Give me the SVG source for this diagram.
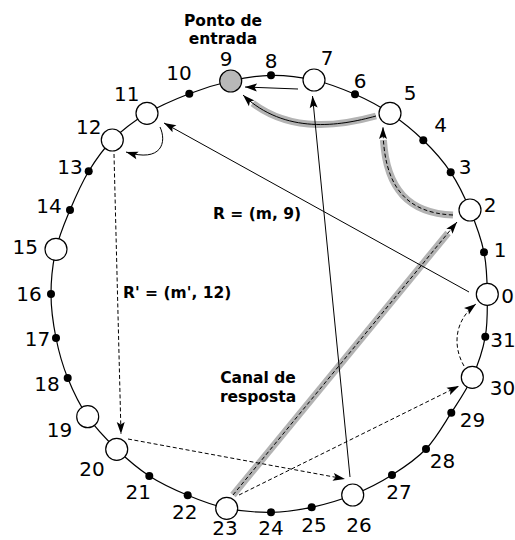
<svg xmlns="http://www.w3.org/2000/svg" width="515" height="540" viewBox="0 0 515 540">
<style>
.ring{fill:none;stroke:#000;stroke-width:1.2}
.n{fill:#fff;stroke:#000;stroke-width:1.2}
.n9{fill:#b8b8b8;stroke:#000;stroke-width:1.2}
.d{fill:#000}
.lbl{font-family:"DejaVu Sans",sans-serif;font-size:20px;fill:#000;text-anchor:middle}
.bold{font-family:"DejaVu Sans",sans-serif;font-size:15.5px;font-weight:bold;fill:#000}
.c{fill:none;stroke:#000;stroke-width:1}
.dash{stroke-dasharray:4 2.5}
.halo{fill:none;stroke:#b3b3b3;stroke-width:7}
</style>
<defs>
<marker id="ah" markerUnits="userSpaceOnUse" markerWidth="13" markerHeight="9" refX="12" refY="4" orient="auto" overflow="visible">
<path d="M0,0 L12,4 L0,8 L2.5,4 Z" fill="#000" stroke="none"/>
</marker>
</defs>
<rect width="515" height="540" fill="#fff"/>
<path class="ring" d="M487.3 294.3 C487.1 280.2 486.9 266.4 484 252.3 C481.1 238.3 475.6 223.3 470 210 C464.5 196.7 458.5 183.9 450.7 172.3 C442.9 160.7 433.4 150.1 423.3 140.3 C413.2 130.5 401.4 121 390 113.3 C378.6 105.6 367.7 99.9 355 94.3 C342.3 88.8 328 83.2 314 80 C300 76.8 284.9 75.1 271 75.3 C257.1 75.5 244.3 77.9 230.7 81 C217.1 84.1 203.3 88.3 189.3 93.7 C175.4 99.1 159.8 105.6 147 113.3 C134.2 121 122 130.3 112.3 140 C102.6 149.7 95.8 159.6 88.7 171.3 C81.7 183 75.5 197 70 210 C64.6 223 59.2 235.3 56 249.3 C52.8 263.3 51 279.2 51 294 C51 308.8 53.2 324 56 338 C58.8 352 62.4 364.9 67.7 378 C73 391.1 79.5 404.8 87.7 416.7 C95.9 428.6 106.4 439.4 116.7 449.3 C127 459.2 137.5 468.3 149.3 476 C161.1 483.7 174.8 489.9 187.7 495.3 C200.6 500.7 212.8 505.5 226.7 508.3 C240.6 511.1 256.8 512.5 271 512.3 C285.2 512.1 298.1 510.2 311.7 507.3 C325.3 504.4 339.3 500.4 352.7 495 C366.1 489.6 379.8 482.7 392 475 C404.2 467.3 416.1 459.4 426 449 C435.9 438.6 443.6 424.6 451.3 412.7 C459 400.8 466.6 390 472.3 377.3 C478 364.6 482.8 350.5 485.3 336.7 C487.8 322.9 487.3 308.5 487.3 294.3 Z"/>
<g id="node0"><circle class="n" cx="487.3" cy="294.3" r="11"/><text class="lbl" x="507.5" y="303">0</text></g>
<g id="node1"><circle class="d" cx="484" cy="252.3" r="4"/><text class="lbl" x="500" y="257">1</text></g>
<g id="node2"><circle class="n" cx="470" cy="210" r="11"/><text class="lbl" x="490" y="212">2</text></g>
<g id="node3"><circle class="d" cx="450.7" cy="172.3" r="4"/><text class="lbl" x="465" y="174">3</text></g>
<g id="node4"><circle class="d" cx="423.3" cy="140.3" r="4"/><text class="lbl" x="440.7" y="132">4</text></g>
<g id="node5"><circle class="n" cx="390" cy="113.3" r="11"/><text class="lbl" x="410" y="100">5</text></g>
<g id="node6"><circle class="d" cx="355" cy="94.3" r="4"/><text class="lbl" x="360" y="88">6</text></g>
<g id="node7"><circle class="n" cx="314" cy="80" r="11"/><text class="lbl" x="327" y="65">7</text></g>
<g id="node8"><circle class="d" cx="271" cy="75.3" r="4"/><text class="lbl" x="271" y="68">8</text></g>
<g id="node9"><circle class="n9" cx="230.7" cy="81" r="11"/><text class="lbl" x="226" y="65.5">9</text>
<text class="bold" x="223" y="26" text-anchor="middle">Ponto de</text><text class="bold" x="223" y="44" text-anchor="middle">entrada</text></g>
<g id="node10"><circle class="d" cx="189.3" cy="93.7" r="4"/><text class="lbl" x="179" y="80">10</text></g>
<g id="node11"><circle class="n" cx="147" cy="113.3" r="11"/><text class="lbl" x="126.7" y="100.5">11</text></g>
<g id="node12"><circle class="n" cx="112.3" cy="140" r="11"/><text class="lbl" x="88.7" y="134">12</text></g>
<g id="node13"><circle class="d" cx="88.7" cy="171.3" r="4"/><text class="lbl" x="70" y="174.3">13</text></g>
<g id="node14"><circle class="d" cx="70" cy="210" r="4"/><text class="lbl" x="49" y="212.7">14</text></g>
<g id="node15"><circle class="n" cx="56" cy="249.3" r="11"/><text class="lbl" x="25.3" y="254.3">15</text></g>
<g id="node16"><circle class="d" cx="51" cy="294" r="4"/><text class="lbl" x="29" y="301">16</text></g>
<g id="node17"><circle class="d" cx="56" cy="338" r="4"/><text class="lbl" x="37.5" y="346">17</text></g>
<g id="node18"><circle class="d" cx="67.7" cy="378" r="4"/><text class="lbl" x="47" y="390.5">18</text></g>
<g id="node19"><circle class="n" cx="87.7" cy="416.7" r="11"/><text class="lbl" x="59.5" y="437">19</text></g>
<g id="node20"><circle class="n" cx="116.7" cy="449.3" r="11"/><text class="lbl" x="92" y="476">20</text></g>
<g id="node21"><circle class="d" cx="149.3" cy="476" r="4"/><text class="lbl" x="138.3" y="499">21</text></g>
<g id="node22"><circle class="d" cx="187.7" cy="495.3" r="4"/><text class="lbl" x="184.7" y="519">22</text></g>
<g id="node23"><circle class="n" cx="226.7" cy="508.3" r="11"/><text class="lbl" x="225" y="535">23</text></g>
<g id="node24"><circle class="d" cx="271" cy="512.3" r="4"/><text class="lbl" x="271" y="535">24</text></g>
<g id="node25"><circle class="d" cx="311.7" cy="507.3" r="4"/><text class="lbl" x="314" y="531.7">25</text></g>
<g id="node26"><circle class="n" cx="352.7" cy="495" r="11"/><text class="lbl" x="359" y="532">26</text></g>
<g id="node27"><circle class="d" cx="392" cy="475" r="4"/><text class="lbl" x="399" y="499">27</text></g>
<g id="node28"><circle class="d" cx="426" cy="449" r="4"/><text class="lbl" x="442.5" y="468">28</text></g>
<g id="node29"><circle class="d" cx="451.3" cy="412.7" r="4"/><text class="lbl" x="472.5" y="426.7">29</text></g>
<g id="node30"><circle class="n" cx="472.3" cy="377.3" r="11"/><text class="lbl" x="502.5" y="395">30</text></g>
<g id="node31"><circle class="d" cx="485.3" cy="336.7" r="4"/><text class="lbl" x="503" y="346.7">31</text></g>
<g id="connectors">
<path class="halo" d="M376 116 C340 126 285 135 243 95" pathLength="100" stroke-dasharray="91 100"/>
<path class="halo" d="M453 215 C405 213 383 185 383 127" pathLength="100" stroke-dasharray="90 100"/>
<path class="halo" d="M233 495 L457 222" pathLength="100" stroke-dasharray="96 100"/>
<path class="c" d="M298 89 L245 87" marker-end="url(#ah)"/>
<path class="c" d="M376 116 C340 126 285 135 243 95" marker-end="url(#ah)"/>
<path class="c dash" d="M453 215 C405 213 383 185 383 127" marker-end="url(#ah)"/>
<path class="c dash" d="M233 495 L457 222" marker-end="url(#ah)"/>
<path class="c" d="M469 292 L164 123" marker-end="url(#ah)"/>
<path class="c" d="M160 127 C167 142 162 163 126 152" marker-end="url(#ah)"/>
<path class="c dash" d="M114 154 L121 434" marker-end="url(#ah)"/>
<path class="c dash" d="M128 439 L345 479" marker-end="url(#ah)"/>
<path class="c dash" d="M239 495 L459 386" marker-end="url(#ah)"/>
<path class="c" d="M350 477 L312.5 96" marker-end="url(#ah)"/>
<path class="c dash" d="M464 366 C452 345 455 320 476 304" marker-end="url(#ah)"/>
</g>
<text class="bold" x="213" y="219">R = (m, 9)</text>
<text class="bold" x="123" y="298">R' = (m', 12)</text>
<text class="bold" x="258" y="383" text-anchor="middle">Canal de</text>
<text class="bold" x="258" y="402" text-anchor="middle">resposta</text>
</svg>
